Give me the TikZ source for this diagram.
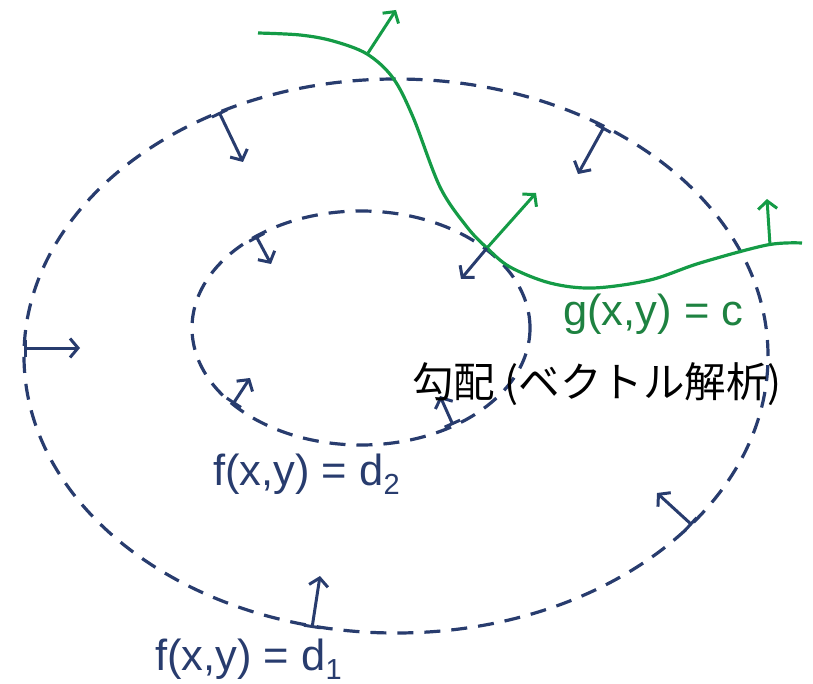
\documentclass[tikz,border=0pt]{standalone}
\usepackage{fontspec}
\setmainfont{Liberation Sans}
\newfontfamily\cjk{Noto Sans CJK JP}
\usetikzlibrary{arrows.meta}
\definecolor{navy}{RGB}{40,60,110}
\definecolor{gcurve}{RGB}{20,155,70}
\definecolor{gtext}{RGB}{30,130,65}
\tikzset{
  level/.style={draw=navy, line width=3.2pt, dash pattern=on 16pt off 11pt},
  gradarrow/.style={navy, line width=3pt, {Bar[width=17pt,line width=3pt]}-{Straight Barb[length=8pt,width=19pt,line width=3pt]}},
  plainarrow/.style={navy, line width=3pt, -{Straight Barb[length=8pt,width=19pt,line width=3pt]}},
  greenarrow/.style={gcurve, line width=3pt, -{Straight Barb[length=8pt,width=19pt,line width=3pt]}},
  lab/.style={anchor=base west, inner sep=0pt, font=\fontsize{43.5}{50}\selectfont}
}
\newcommand{\subdigit}[1]{\raisebox{-9pt}{\fontsize{29}{29}\selectfont #1}}
\begin{document}
\begin{tikzpicture}[x=1pt,y=-1pt]
\useasboundingbox (0,0) rectangle (813,684);
% level curves
\draw[level] (396,356) ellipse [x radius=372pt, y radius=277pt];
\draw[level] (361,328) ellipse [x radius=169pt, y radius=117pt];
% constraint curve
\draw[gcurve, line width=3.2pt] plot[smooth, tension=0.55] coordinates {
  (258,33) (300,35) (333,41) (367,54) (393,78) (413,117) (440,187)
  (467,227) (487,248) (510,267) (550,283) (593,288) (650,280) (700,263) (767,245) (802,243)};
% named points
\coordinate (o1) at (219,112); \coordinate (o1h) at (243,162);
\coordinate (o2) at (604,127); \coordinate (o2h) at (578,174);
\coordinate (o3) at (24,348);  \coordinate (o3h) at (80,348);
\coordinate (o4) at (312,628); \coordinate (o4h) at (320,576);
\coordinate (o5) at (692,525); \coordinate (o5h) at (657,493);
\coordinate (i1) at (256,236); \coordinate (i1h) at (271,264);
\coordinate (i2) at (233,404); \coordinate (i2h) at (250,378);
\coordinate (i3) at (453,425); \coordinate (i3h) at (440,396);
\coordinate (x0) at (487,248); \coordinate (x0b) at (461,279); \coordinate (x0g) at (536,193);
\coordinate (g1) at (368,53);  \coordinate (g1h) at (396,10);
\coordinate (g2) at (770,245); \coordinate (g2h) at (767,199);
% gradient arrows
\draw[gradarrow] (o1) -- (o1h);
\draw[gradarrow] (o2) -- (o2h);
\draw[gradarrow] (o3) -- (o3h);
\draw[gradarrow] (o4) -- (o4h);
\draw[gradarrow] (o5) -- (o5h);
\draw[gradarrow] (i1) -- (i1h);
\draw[gradarrow] (i2) -- (i2h);
\draw[gradarrow] (i3) -- (i3h);
\draw[plainarrow] (x0) -- (x0b);
\draw[greenarrow] (x0) -- (x0g);
\draw[greenarrow] (g1) -- (g1h);
\draw[greenarrow] (g2) -- (g2h);
% labels
\node[lab, text=gtext] (gl) at (563,326) {g(x,y) = c};
\node[lab, text=navy] (d2) at (213,485) {f(x,y) = d\subdigit{2}};
\node[lab, text=navy] (d1) at (155,670) {f(x,y) = d\subdigit{1}};
\node[lab, text=black, font=\cjk\fontsize{41.5}{48}\selectfont] (jp) at (412,397) {勾配 (ベクトル解析)};
\end{tikzpicture}
\end{document}
